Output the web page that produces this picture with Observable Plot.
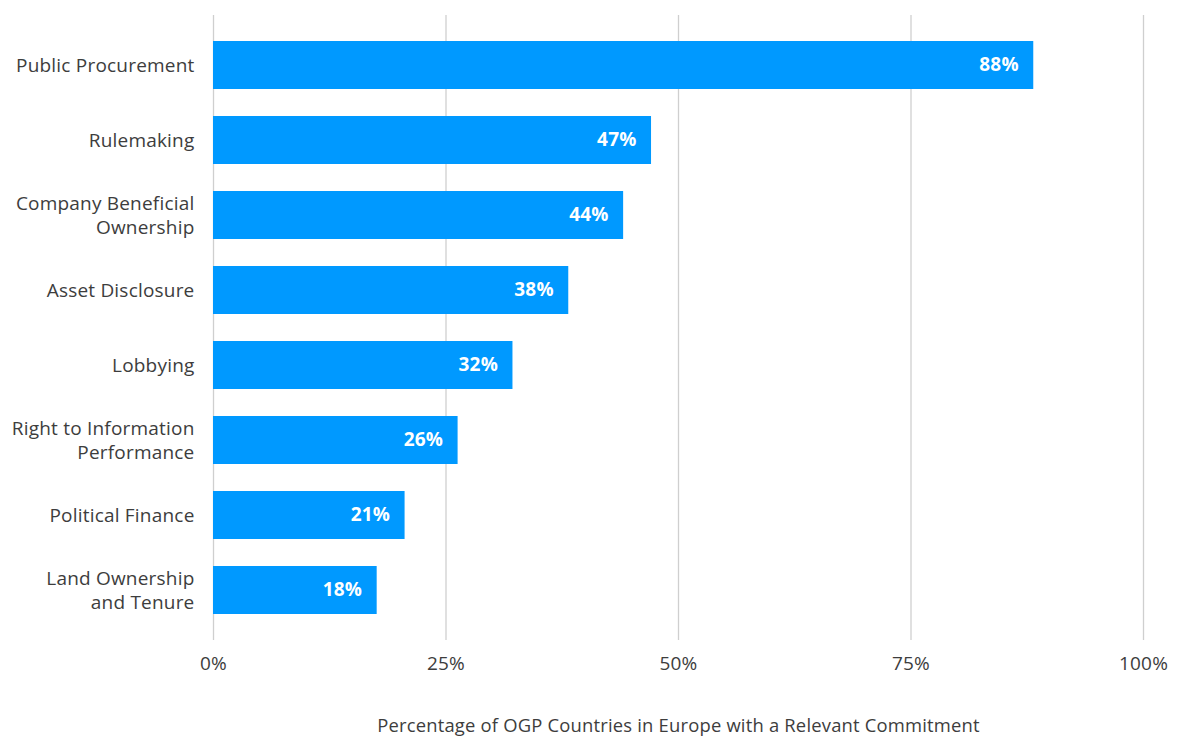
<!DOCTYPE html>
<html>
<head>
<meta charset="utf-8">
<script src="https://cdn.jsdelivr.net/npm/d3@7"></script>
<script src="https://cdn.jsdelivr.net/npm/@observablehq/plot@0.6"></script>
<style>
  html, body { margin: 0; padding: 0; background: #fff; }
  svg { font-family: "Open Sans", Lato, sans-serif; letter-spacing: 0.2px; }
</style>
</head>
<body>
<div id="chart"></div>
<script>
const categories = [
  "Public Procurement",
  "Rulemaking",
  "Company Beneficial\nOwnership",
  "Asset Disclosure",
  "Lobbying",
  "Right to Information\nPerformance",
  "Political Finance",
  "Land Ownership\nand Tenure"
];
const values = [88.2, 47.1, 44.1, 38.2, 32.2, 26.3, 20.6, 17.6];
const xTicks = [0, 25, 50, 75, 100];
const xTitle = "Percentage of OGP Countries in Europe with a Relevant Commitment";

const data = categories.map((c, i) => ({category: c, value: values[i]}));

const chart = Plot.plot({
  width: 1180,
  height: 737,
  marginTop: 15,
  marginBottom: 97,
  marginLeft: 213,
  marginRight: 37,
  style: {fontFamily: "'Open Sans', Lato, sans-serif", fontSize: "19px", color: "#3d3d3d"},
  x: {domain: [0, 100]},
  y: {domain: categories, paddingInner: 0.363, paddingOuter: 0.33},
  marks: [
    Plot.gridX(xTicks, {stroke: "#cfcfcf", strokeOpacity: 1, strokeWidth: 1.3}),
    Plot.barX(data, {x: "value", y: "category", fill: "#0099ff"}),
    Plot.text(data, {
      x: "value", y: "category",
      text: d => Math.round(d.value) + "%",
      textAnchor: "end", dx: -15, dy: -1, fill: "white", fontWeight: "bold", fontSize: 19
    }),
    Plot.axisY({tickSize: 0, tickPadding: 19, label: null, fontSize: 19, lineHeight: 1.26, dy: -1, fill: "#3d3d3d"}),
    Plot.axisX(xTicks, {tickSize: 0, tickPadding: 16, label: null, tickFormat: d => d + "%", fontSize: 19, fill: "#3d3d3d"}),
    Plot.text([xTitle], {frameAnchor: "bottom", dy: 91, fontSize: 18.4, fill: "#3d3d3d"})
  ]
});
document.getElementById("chart").appendChild(chart);
</script>
</body>
</html>
